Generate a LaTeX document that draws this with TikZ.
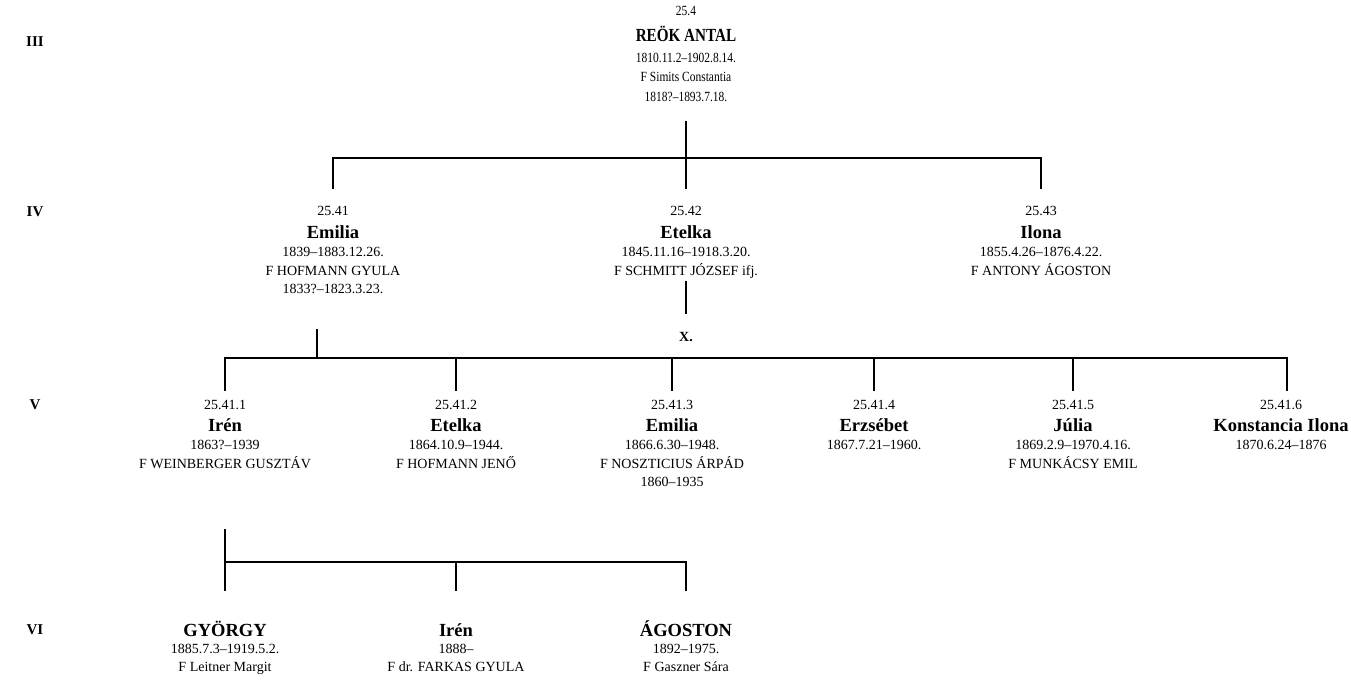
\documentclass[tikz,border=0pt]{standalone}
\usepackage{fontspec}
\setmainfont{Liberation Serif}
\newfontfamily\condfont{Liberation Serif}[FakeStretch=0.82]
\newcommand\nm[1]{{\fontsize{18.5}{18.5}\selectfont\bfseries #1}}
\newcommand\nmtop[1]{{\fontsize{18.5}{18.5}\selectfont\bfseries #1}}
\newcommand\fs[1]{\rule{0pt}{#1}}
\tikzset{
  conn/.style={line width=1.3pt, line cap=rect},
  person/.style={align=center, inner sep=0pt, anchor=north, font=\fontsize{14}{18.5}\selectfont},
  gen/.style={inner sep=0pt, font=\fontsize{15}{16}\selectfont\bfseries},
}
\begin{document}
\begin{tikzpicture}[x=1pt,y=-1pt]
\useasboundingbox (0,0) rectangle (1351,681);
% generation labels
\node[gen] (g3) at (35,42) {III};
\node[gen] (g4) at (35,212) {IV};
\node[gen] (g5) at (35,405) {V};
\node[gen] (g6) at (35,630) {VI};
% generation III
\node[person, font=\condfont\fontsize{14}{18.5}\selectfont] (r) at (686,3.7) {\fs{12pt}25.4\\[7pt]\nmtop{REÖK ANTAL}\\[3pt]1810.11.2–1902.8.14.\\F Simits Constantia\\[1.5pt]1818?–1893.7.18.};
% generation IV
\node[person] (e) at (333,203.7) {\fs{12pt}25.41\\[3.9pt]\nm{Emilia}\\1839–1883.12.26.\\F HOFMANN GYULA\\1833?–1823.3.23.};
\node[person] (et) at (686,203.7) {\fs{12pt}25.42\\[3.9pt]\nm{Etelka}\\1845.11.16–1918.3.20.\\F SCHMITT JÓZSEF ifj.};
\node[person] (il) at (1041,203.7) {\fs{12pt}25.43\\[3.9pt]\nm{Ilona}\\1855.4.26–1876.4.22.\\F ANTONY ÁGOSTON};
\node[inner sep=0pt, font=\fontsize{14}{15}\selectfont\bfseries] (x) at (686,337) {X.};
% generation V
\node[person] (v1) at (225,397.7) {\fs{12pt}25.41.1\\[2.9pt]\nm{Irén}\\1863?–1939\\F WEINBERGER GUSZTÁV};
\node[person] (v2) at (456,397.7) {\fs{12pt}25.41.2\\[2.9pt]\nm{Etelka}\\1864.10.9–1944.\\F HOFMANN JENŐ};
\node[person] (v3) at (672,397.7) {\fs{12pt}25.41.3\\[2.9pt]\nm{Emilia}\\1866.6.30–1948.\\F NOSZTICIUS ÁRPÁD\\1860–1935};
\node[person] (v4) at (874,397.7) {\fs{12pt}25.41.4\\[2.9pt]\nm{Erzsébet}\\1867.7.21–1960.};
\node[person] (v5) at (1073,397.7) {\fs{12pt}25.41.5\\[2.9pt]\nm{Júlia}\\1869.2.9–1970.4.16.\\F MUNKÁCSY EMIL};
\node[person] (v6) at (1281,397.7) {\fs{12pt}25.41.6\\[2.9pt]\nm{Konstancia Ilona}\\1870.6.24–1876};
% generation VI
\node[person] (w1) at (225,620.1) {\fs{16pt}\nm{GYÖRGY}\\[-1.5pt]1885.7.3–1919.5.2.\\F Leitner Margit};
\node[person] (w2) at (456,620.1) {\fs{16pt}\nm{Irén}\\[-1.5pt]1888–\\F dr. FARKAS GYULA};
\node[person] (w3) at (686,620.1) {\fs{16pt}\nm{ÁGOSTON}\\[-1.5pt]1892–1975.\\F Gaszner Sára};
% junction coordinates
\coordinate (r0) at (686,122);
\coordinate (b4L) at (333,158);
\coordinate (b4R) at (1041,158);
\coordinate (e0) at (317,330);
\coordinate (et0) at (686,282);
\coordinate (et1) at (686,313);
\coordinate (b5L) at (225,358);
\coordinate (b5R) at (1287,358);
\coordinate (v10) at (225,530);
\coordinate (b6R) at (686,562);
% connectors III -> IV
\draw[conn] (r0) -- ([yshift=15.7pt]et.north);
\draw[conn] (b4L) -- (b4R);
\draw[conn] (b4L) -- ([yshift=15.7pt]e.north);
\draw[conn] (b4R) -- ([yshift=15.7pt]il.north);
% Etelka line above X.
\draw[conn] (et0) -- (et1);
% connectors IV -> V
\draw[conn] (e0) -- (e0 |- b5L);
\draw[conn] (b5L) -- (b5R);
\foreach \n in {v1,v2,v3,v4,v5}
  \draw[conn] (b5L -| \n.north) -- ([yshift=7.7pt]\n.north);
\draw[conn] (b5R) -- ++(0,32);
% connectors V -> VI
\draw[conn] (v10) -- ([yshift=30.1pt]w1.north);
\draw[conn] (v10 |- b6R) -- (b6R);
\foreach \n in {w2,w3}
  \draw[conn] (b6R -| \n.north) -- ([yshift=30.1pt]\n.north);
\end{tikzpicture}
\end{document}
